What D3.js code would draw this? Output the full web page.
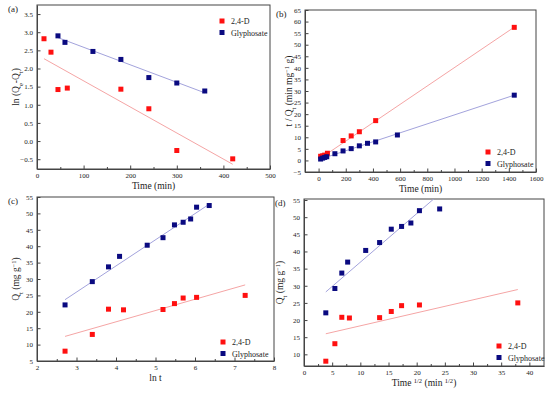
<!DOCTYPE html>
<html lang="en">
<head>
    <meta charset="UTF-8">
    <title>Adsorption kinetics</title>
    <script src="https://d3js.org/d3.v7.min.js"></script>
    <style>
        body { margin: 0; background: white; }
        svg text { font-family: "Liberation Serif", "Times New Roman", serif; fill: #222; }
        .tick text { font-size: 7px; }
        .axis path, .axis line { stroke: #444; }
        .frame { fill: none; stroke: #444; stroke-width: 1; }
        .title { font-size: 9.5px; }
        .legend { font-size: 8px; }
        .plabel { font-size: 9px; }
    </style>
</head>
<body>
    <svg width="550" height="396"></svg>

    <script>
        // (a) pseudo-first order: ln(Qe-Qt) vs t
        const aRedT   = [15, 30, 45, 65, 180, 240, 300, 420];
        const aRedY   = [2.82, 2.45, 1.42, 1.46, 1.43, 0.89, -0.26, -0.49];
        const aBlueT  = [45, 60, 120, 180, 240, 300, 360];
        const aBlueY  = [2.90, 2.72, 2.47, 2.25, 1.75, 1.60, 1.38];
        const aRedFit  = [[15, 2.27], [420, -0.64]];
        const aBlueFit = [[45, 2.85], [360, 1.33]];

        // (b) pseudo-second order: t/Qt vs t
        const bRedT   = [15, 30, 45, 65, 180, 240, 300, 420, 1440];
        const bRedY   = [1.8, 2.0, 2.3, 3.1, 8.6, 10.6, 12.4, 17.2, 57.5];
        const bBlueT  = [15, 30, 45, 60, 120, 180, 240, 300, 360, 420, 580, 1440];
        const bBlueY  = [0.6, 1.0, 1.3, 1.6, 2.9, 4.1, 5.1, 6.3, 7.4, 8.0, 11.0, 28.2];
        const bRedFit  = [[15, 1.0], [1440, 57.6]];
        const bBlueFit = [[15, 0.6], [1440, 28.2]];

        // (c) Elovich: Qt vs ln t
        const cRedX   = [2.71, 3.40, 3.81, 4.19, 5.19, 5.48, 5.70, 6.04, 7.27];
        const cRedY   = [8.0, 13.1, 20.8, 20.6, 20.7, 22.5, 24.2, 24.4, 25.0];
        const cBlueX  = [2.71, 3.40, 3.81, 4.09, 4.79, 5.19, 5.48, 5.70, 5.89, 6.04, 6.36];
        const cBlueY  = [22.1, 29.2, 33.7, 36.9, 40.3, 42.6, 46.5, 47.3, 48.3, 51.9, 52.4];
        const cRedFit  = [[2.71, 12.5], [7.27, 28.2]];
        const cBlueFit = [[2.71, 23.7], [6.36, 52.8]];

        // (d) intraparticle diffusion: Qt vs t^1/2
        const dRedX   = [3.87, 5.48, 6.71, 8.06, 13.42, 15.49, 17.32, 20.49, 37.95];
        const dRedY   = [8.0, 13.1, 20.8, 20.6, 20.7, 22.5, 24.2, 24.4, 25.0];
        const dBlueX  = [3.87, 5.48, 6.71, 7.75, 10.95, 13.42, 15.49, 17.32, 18.97, 20.49, 24.08];
        const dBlueY  = [22.1, 29.2, 33.7, 36.9, 40.3, 42.6, 46.5, 47.3, 48.3, 51.9, 52.4];
        const dRedFit  = [[3.87, 16.0], [37.95, 28.9]];
        const dBlueFit = [[3.87, 28.2], [24.08, 56.8]];

        const seriesNames = ["2,4-D", "Glyphosate"];
        const red = "#ff1010", blue = "#0a0a80";
        const redLine = "#f5a5a5", blueLine = "#a3a3dc";

        const svg = d3.select("svg");

        function panel(cfg) {
            const x = d3.scaleLinear().domain(cfg.xDomain).range([cfg.left, cfg.right]);
            const y = d3.scaleLinear().domain(cfg.yDomain).range([cfg.bottom, cfg.top]);
            const g = svg.append("g");

            // minor ticks
            g.append("g").attr("class", "axis")
                .attr("transform", `translate(0,${cfg.bottom})`)
                .call(d3.axisBottom(x).tickValues(cfg.xMinor).tickSize(-2).tickFormat(""))
                .select(".domain").remove();

            g.append("g").attr("class", "axis")
                .attr("transform", `translate(0,${cfg.bottom})`)
                .call(d3.axisBottom(x).tickValues(cfg.xTicks).tickSizeInner(-3.5).tickSizeOuter(0).tickPadding(4)
                    .tickFormat(d3.format("d")));

            g.append("g").attr("class", "axis")
                .attr("transform", `translate(${cfg.left},0)`)
                .call(d3.axisLeft(y).tickValues(cfg.yTicks).tickSizeInner(-3.5).tickSizeOuter(0).tickPadding(4)
                    .tickFormat(cfg.yFormat || d3.format("d")));

            g.append("rect").attr("class", "frame")
                .attr("x", cfg.left).attr("y", cfg.top)
                .attr("width", cfg.right - cfg.left).attr("height", cfg.bottom - cfg.top);

            const clipId = "clip" + cfg.name;
            g.append("clipPath").attr("id", clipId).append("rect")
                .attr("x", cfg.left).attr("y", cfg.top)
                .attr("width", cfg.right - cfg.left).attr("height", cfg.bottom - cfg.top);

            const line = d3.line().x(d => x(d[0])).y(d => y(d[1]));
            g.append("path").datum(cfg.redFit).attr("d", line)
                .attr("clip-path", `url(#${clipId})`)
                .attr("fill", "none").attr("stroke", redLine).attr("stroke-width", 1);
            g.append("path").datum(cfg.blueFit).attr("d", line)
                .attr("clip-path", `url(#${clipId})`)
                .attr("fill", "none").attr("stroke", blueLine).attr("stroke-width", 1);

            const s = 5;
            const pts = (xs, ys, color) => g.append("g").selectAll("rect")
                .data(xs.map((v, i) => [v, ys[i]]))
                .join("rect")
                .attr("x", d => x(d[0]) - s / 2).attr("y", d => y(d[1]) - s / 2)
                .attr("width", s).attr("height", s).attr("fill", color);
            pts(cfg.redX, cfg.redY, red);
            pts(cfg.blueX, cfg.blueY, blue);

            // legend
            const lg = g.append("g").attr("transform", `translate(${cfg.legend[0]},${cfg.legend[1]})`);
            [red, blue].forEach((c, i) => {
                lg.append("rect").attr("x", -2.5).attr("y", i * 11.5 - 2.5)
                    .attr("width", 5).attr("height", 5).attr("fill", c);
                lg.append("text").attr("class", "legend").attr("x", 9).attr("y", i * 11.5 + 3)
                    .text(seriesNames[i]);
            });

            // titles
            const xt = g.append("text").attr("class", "title").attr("text-anchor", "middle")
                .attr("x", (cfg.left + cfg.right) / 2).attr("y", cfg.bottom + 20);
            cfg.xTitle(xt);
            const yt = g.append("text").attr("class", "title").attr("text-anchor", "middle")
                .attr("transform", `translate(${cfg.yTitleX},${(cfg.top + cfg.bottom) / 2}) rotate(-90)`);
            cfg.yTitle(yt);

            g.append("text").attr("class", "plabel").attr("x", cfg.left - 29).attr("y", cfg.top + 7)
                .text(cfg.label);
        }

        const sub = (t, s) => { t.append("tspan").attr("baseline-shift", "sub").attr("font-size", "6.5px").text(s); };
        const sup = (t, s) => { t.append("tspan").attr("baseline-shift", "super").attr("font-size", "6.5px").text(s); };
        const txt = (t, s) => { t.append("tspan").text(s); };

        panel({
            name: "a", label: "(a)", left: 37, right: 270, top: 5, bottom: 169,
            xDomain: [0, 500], yDomain: [-0.77, 3.75],
            xTicks: d3.range(0, 501, 100), xMinor: d3.range(50, 500, 100),
            yTicks: d3.range(-0.5, 3.51, 0.5), yFormat: d3.format(".1f"),
            redX: aRedT, redY: aRedY, blueX: aBlueT, blueY: aBlueY,
            redFit: aRedFit, blueFit: aBlueFit, legend: [222, 21],
            xTitle: t => txt(t, "Time (min)"),
            yTitle: t => { txt(t, "ln (Q"); sub(t, "e"); txt(t, "-Q"); sub(t, "t"); txt(t, ")"); },
            yTitleX: 19
        });

        panel({
            name: "b", label: "(b)", left: 305, right: 536, top: 10, bottom: 172,
            xDomain: [-100, 1600], yDomain: [-5, 65],
            xTicks: d3.range(0, 1601, 200), xMinor: d3.range(100, 1600, 200),
            yTicks: d3.range(-5, 66, 5),
            redX: bRedT, redY: bRedY, blueX: bBlueT, blueY: bBlueY,
            redFit: bRedFit, blueFit: bBlueFit, legend: [488, 152],
            xTitle: t => txt(t, "Time (min)"),
            yTitle: t => { txt(t, "t / Q"); sub(t, "t"); txt(t, " (min mg"); sup(t, "\u22121"); txt(t, " g)"); },
            yTitleX: 292
        });

        panel({
            name: "c", label: "(c)", left: 37, right: 274, top: 197, bottom: 361,
            xDomain: [2, 8], yDomain: [5, 55],
            xTicks: d3.range(2, 9, 1), xMinor: d3.range(2.5, 8, 1),
            yTicks: d3.range(5, 56, 5),
            redX: cRedX, redY: cRedY, blueX: cBlueX, blueY: cBlueY,
            redFit: cRedFit, blueFit: cBlueFit, legend: [223, 342],
            xTitle: t => txt(t, "ln t"),
            yTitle: t => { txt(t, "Q"); sub(t, "t"); txt(t, " (mg g"); sup(t, "\u22121"); txt(t, ")"); },
            yTitleX: 19
        });

        panel({
            name: "d", label: "(d)", left: 304, right: 544, top: 199, bottom: 366,
            xDomain: [0, 42.6], yDomain: [6.6, 55.3],
            xTicks: d3.range(0, 41, 5), xMinor: d3.range(2.5, 42, 5),
            yTicks: d3.range(10, 56, 5),
            redX: dRedX, redY: dRedY, blueX: dBlueX, blueY: dBlueY,
            redFit: dRedFit, blueFit: dBlueFit, legend: [499, 346],
            xTitle: t => { txt(t, "Time "); sup(t, "1/2"); txt(t, " (min "); sup(t, "1/2"); txt(t, ")"); },
            yTitle: t => { txt(t, "Q"); sub(t, "t"); txt(t, " (mg g"); sup(t, "\u22121"); txt(t, ")"); },
            yTitleX: 283
        });
    </script>
</body>
</html>
